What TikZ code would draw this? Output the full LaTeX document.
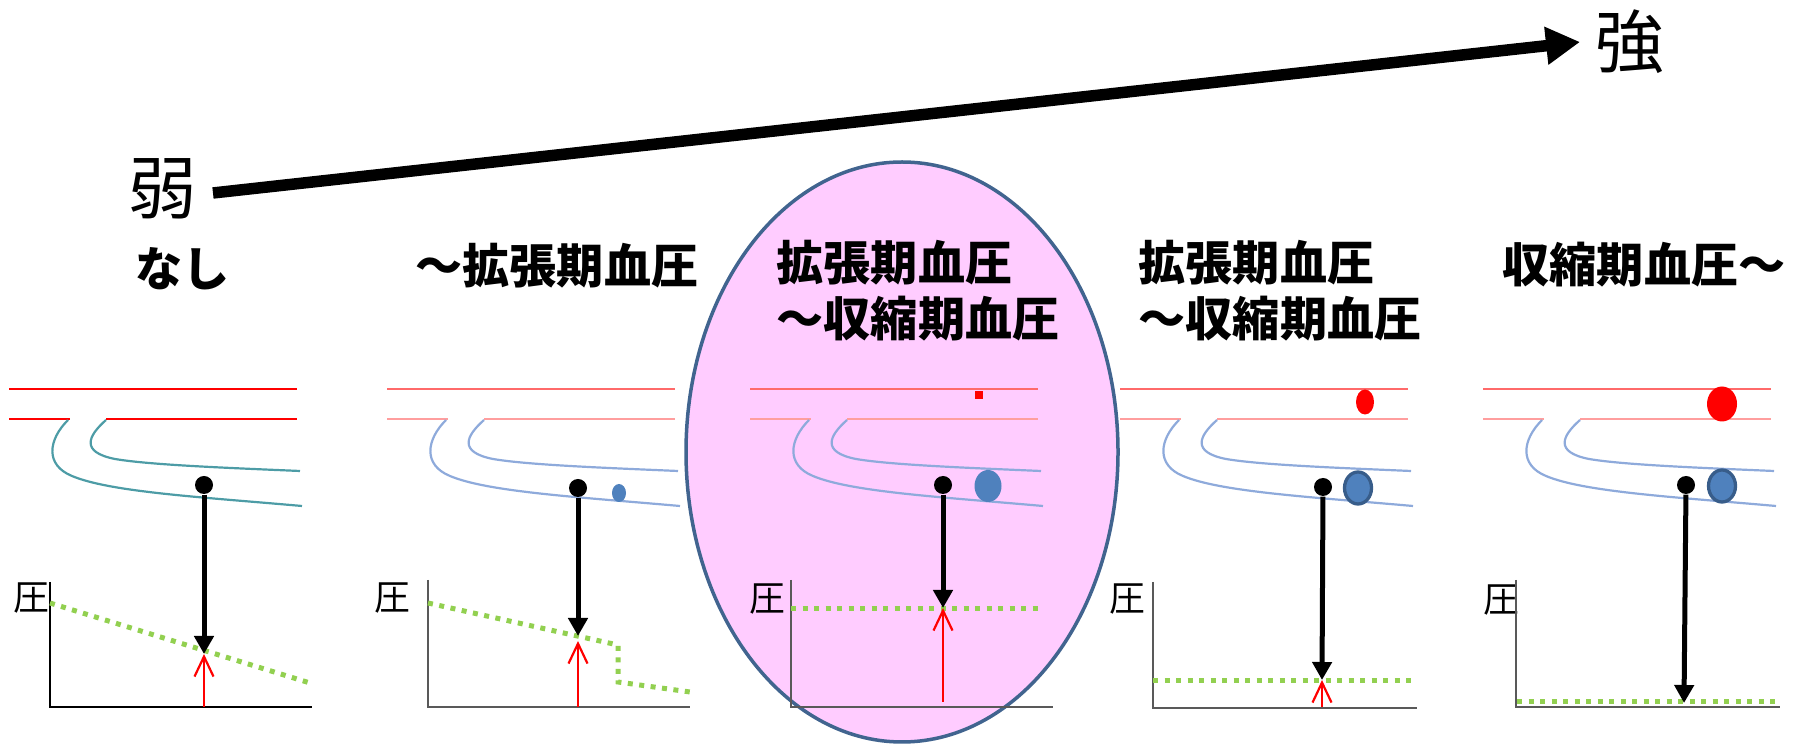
\documentclass[tikz,border=0pt]{standalone}
\usepackage{fontspec}
\setmainfont{Noto Sans CJK JP}
\usetikzlibrary{arrows.meta,shapes.geometric}
\definecolor{hbteal}{HTML}{4D9CA6}
\definecolor{hbvein}{HTML}{8EAADB}
\definecolor{hbwall}{HTML}{FF6A6A}
\definecolor{hbwallsoft}{HTML}{FF9E9E}
\definecolor{hbblue}{HTML}{4F81BD}
\definecolor{hbnavy}{HTML}{385D8A}
\definecolor{hbgreen}{HTML}{92D050}
\definecolor{hbpink}{HTML}{FFCCFF}
\definecolor{hbrim}{HTML}{41648F}

\begin{document}
\begin{tikzpicture}[x=0.1mm,y=-0.1mm,
  big/.style={font=\fontsize{19.5}{22}\selectfont,inner sep=1.5mm},
  cond/.style={font=\bfseries\fontsize{13.4}{16}\selectfont,anchor=west,inner sep=0pt},
  ylab/.style={font=\fontsize{10.2}{12}\selectfont,inner sep=0pt},
  trend/.style={line width=1.15mm,-{Triangle[length=3.4mm,width=3.6mm]}},
  focus/.style={draw=hbrim,line width=0.35mm,fill=hbpink},
  wall/.style={line width=0.22mm},
  vein/.style={line width=0.22mm},
  axis/.style={draw=black!65,line width=0.22mm},
  level/.style={hbgreen,line width=0.5mm,dash pattern=on 0.5mm off 0.65mm},
  dot/.style={circle,fill=black,inner sep=0pt,minimum size=1.8mm},
  probe/.style={line width=0.5mm,-{Triangle[length=1.8mm,width=1.9mm]}},
  rise/.style={red,line width=0.22mm,-{Straight Barb[length=2mm,width=1.9mm]}},
  vbead/.style={ellipse,fill=hbblue,inner sep=0pt},
  rim/.style={draw=hbnavy,line width=0.33mm},
  abead/.style={ellipse,fill=red,inner sep=0pt}
]
\useasboundingbox (0,0) rectangle (1806,748);
\draw[focus] (902,452) ellipse [x radius=21.6mm,y radius=29mm];

\node[big] (weak) at (163,189) {弱};
\node[big] (strong) at (1630,42) {強};
\draw[trend] ([yshift=-0.4mm]weak.east) -- (strong.west);

\node[cond] (none) at (135,269) {なし};
\node[cond] (lowdia) at (415,266) {～拡張期血圧};
\node[cond] (mid1) at (776,263) {拡張期血圧};
\node[cond] (mid2) at (776,319) {～収縮期血圧};
\node[cond] (hi1) at (1138,263) {拡張期血圧};
\node[cond] (hi2) at (1138,319) {～収縮期血圧};
\node[cond] (oversys) at (1502,265) {収縮期血圧～};

\foreach \dx/\ctop/\cbot/\cvein in {0/red/red/hbteal,378/hbwall/hbwallsoft/hbvein,741/hbwall/hbwallsoft/hbvein,1111/hbwall/hbwallsoft/hbvein,1474/hbwall/hbwallsoft/hbvein}{
  \begin{scope}[shift={(\dx,0)}]
    \draw[wall,\ctop] (9,389) -- (297,389);
    \draw[wall,\cbot] (9,419) -- (70,419) (106,419) -- (297,419);
    \draw[vein,\cvein] (68,420) .. controls (48,440) and (45,465) .. (72,476) .. controls (110,492) and (200,497) .. (302,506);
    \draw[vein,\cvein] (106,420) .. controls (88,436) and (80,452) .. (115,459) .. controls (150,465) and (230,468) .. (300,471);
  \end{scope}
}

\node[ylab] (y1) at (31,598) {圧};
\draw[axis,draw=black] (50,582) |- (312,707);
\draw[level] (50,603) -- (310,683);
\node[dot] (p1) at (204,485) {};
\coordinate (m1) at (204,654);
\coordinate (b1) at (204,707);
\draw[probe] (p1) -- (m1);
\draw[rise] (b1) -- (m1);

\node[ylab] (y2) at (392,598) {圧};
\draw[axis] (428,580) |- (690,707);
\draw[level] (428,603) -- (618,645) -- (618,682) -- (690,692);
\node[vbead,minimum width=1.4mm,minimum height=1.8mm] (v2) at (619,493) {};
\node[dot] (p2) at (578,488) {};
\coordinate (m2) at (578,636);
\coordinate (n2) at (578,641);
\coordinate (b2) at (578,707);
\draw[probe] (p2) -- (m2);
\draw[rise] (b2) -- (n2);

\node[ylab] (y3) at (767,599) {圧};
\draw[axis] (791,580) |- (1053,707);
\draw[level] (791,609) -- (1042,609);
\node[fill=red,inner sep=0pt,minimum size=0.8mm] (a3) at (979,395) {};
\node[vbead,minimum width=2.7mm,minimum height=3.2mm] (v3) at (988,486) {};
\node[dot] (p3) at (943,485) {};
\coordinate (m3) at (943,608);
\coordinate (b3) at (943,702);
\draw[probe] (p3) -- (m3);
\draw[rise] (b3) -- (m3);

\node[ylab] (y4) at (1127,599) {圧};
\draw[axis] (1153,582) |- (1417,708);
\draw[level] (1153,681) -- (1412,681);
\node[abead,minimum width=1.8mm,minimum height=2.5mm] (a4) at (1365,402) {};
\node[vbead,rim,minimum width=2.7mm,minimum height=3.2mm] (v4) at (1358,488) {};
\node[dot] (p4) at (1323,487) {};
\coordinate (m4) at (1322,680);
\coordinate (b4) at (1322,707);
\draw[probe] (p4) -- (m4);
\draw[rise] (b4) -- (m4);

\node[ylab] (y5) at (1501,600) {圧};
\draw[axis] (1516,580) |- (1780,707);
\draw[level] (1517,702) -- (1780,702);
\node[abead,minimum width=3mm,minimum height=3.5mm] (a5) at (1722,404) {};
\node[vbead,rim,minimum width=2.7mm,minimum height=3.2mm] (v5) at (1722,486) {};
\node[dot] (p5) at (1686,485) {};
\coordinate (m5) at (1684,703);
\draw[probe] (p5) -- (m5);
\end{tikzpicture}
\end{document}
